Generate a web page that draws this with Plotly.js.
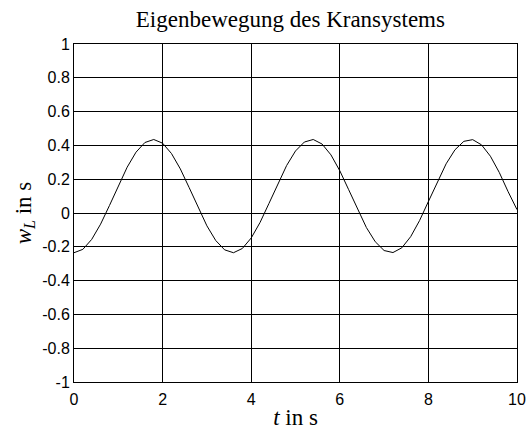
<!DOCTYPE html>
<html>
<head>
<meta charset="utf-8">
<script src="https://cdn.plot.ly/plotly-3.0.1.min.js"></script>
<style>html,body{margin:0;padding:0;background:#fff;}#chart{width:528px;height:430px;}</style>
</head>
<body>
<div id="chart"></div>
<script>
const timeS = [0,0.2,0.4,0.6,0.8,1.0,1.2,1.4,1.6,1.8,2.0,2.2,2.4,2.6,2.8,3.0,3.2,3.4,3.6,3.8,4.0,4.2,4.4,4.6,4.8,5.0,5.2,5.4,5.6,5.8,6.0,6.2,6.4,6.6,6.8,7.0,7.2,7.4,7.6,7.8,8.0,8.2,8.4,8.6,8.8,9.0,9.2,9.4,9.6,9.8,10.0];
const wL = [-0.235,-0.215,-0.156,-0.066,0.044,0.161,0.271,0.360,0.417,0.435,0.413,0.352,0.261,0.150,0.033,-0.076,-0.163,-0.218,-0.235,-0.210,-0.148,-0.056,0.056,0.173,0.281,0.367,0.420,0.435,0.408,0.344,0.250,0.138,0.021,-0.086,-0.170,-0.222,-0.234,-0.206,-0.140,-0.045,0.068,0.184,0.291,0.374,0.424,0.434,0.403,0.336,0.240,0.126,0.020];
const xTickVals = [0,2,4,6,8,10];
const xTickText = ["0","2","4","6","8","10"];
const yTickVals = [-1,-0.8,-0.6,-0.4,-0.2,0,0.2,0.4,0.6,0.8,1];
const yTickText = ["-1","-0.8","-0.6","-0.4","-0.2","0","0.2","0.4","0.6","0.8","1"];

const tickFont = {family: "Liberation Sans, Arial, sans-serif", size: 16, color: "#000"};
const serif = "Liberation Serif, Times New Roman, serif";

Plotly.newPlot("chart", [{
  x: timeS, y: wL, type: "scatter", mode: "lines",
  line: {color: "#000", width: 1}, hoverinfo: "skip"
}], {
  width: 528, height: 430,
  margin: {l: 74, r: 11, t: 44, b: 48},
  paper_bgcolor: "#fff", plot_bgcolor: "#fff",
  showlegend: false,
  title: {text: "Eigenbewegung des Kransystems", font: {family: serif, size: 23, color: "#000"},
          x: 0.55, xanchor: "center", yref: "container", y: 0.956, yanchor: "middle"},
  xaxis: {
    range: [0, 10], tickvals: xTickVals, ticktext: xTickText,
    showline: true, mirror: "ticks", linecolor: "#000", linewidth: 1,
    ticks: "inside", ticklen: 5, tickcolor: "#000", ticklabelstandoff: 3,
    showgrid: true, gridcolor: "#000", gridwidth: 1, zeroline: false,
    tickfont: tickFont,
    title: {text: "<i>t</i> in s", font: {family: serif, size: 23, color: "#000"}, standoff: 1}
  },
  yaxis: {
    range: [-1, 1], tickvals: yTickVals, ticktext: yTickText,
    showline: true, mirror: "ticks", linecolor: "#000", linewidth: 1,
    ticks: "inside", ticklen: 5, tickcolor: "#000",
    showgrid: true, gridcolor: "#000", gridwidth: 1, zeroline: false,
    tickfont: tickFont,
    title: {text: "<i>w</i><sub><i>L</i></sub> in s", font: {family: serif, size: 23, color: "#000"}, standoff: 4}
  }
}, {displayModeBar: false, staticPlot: true});
</script>
</body>
</html>
